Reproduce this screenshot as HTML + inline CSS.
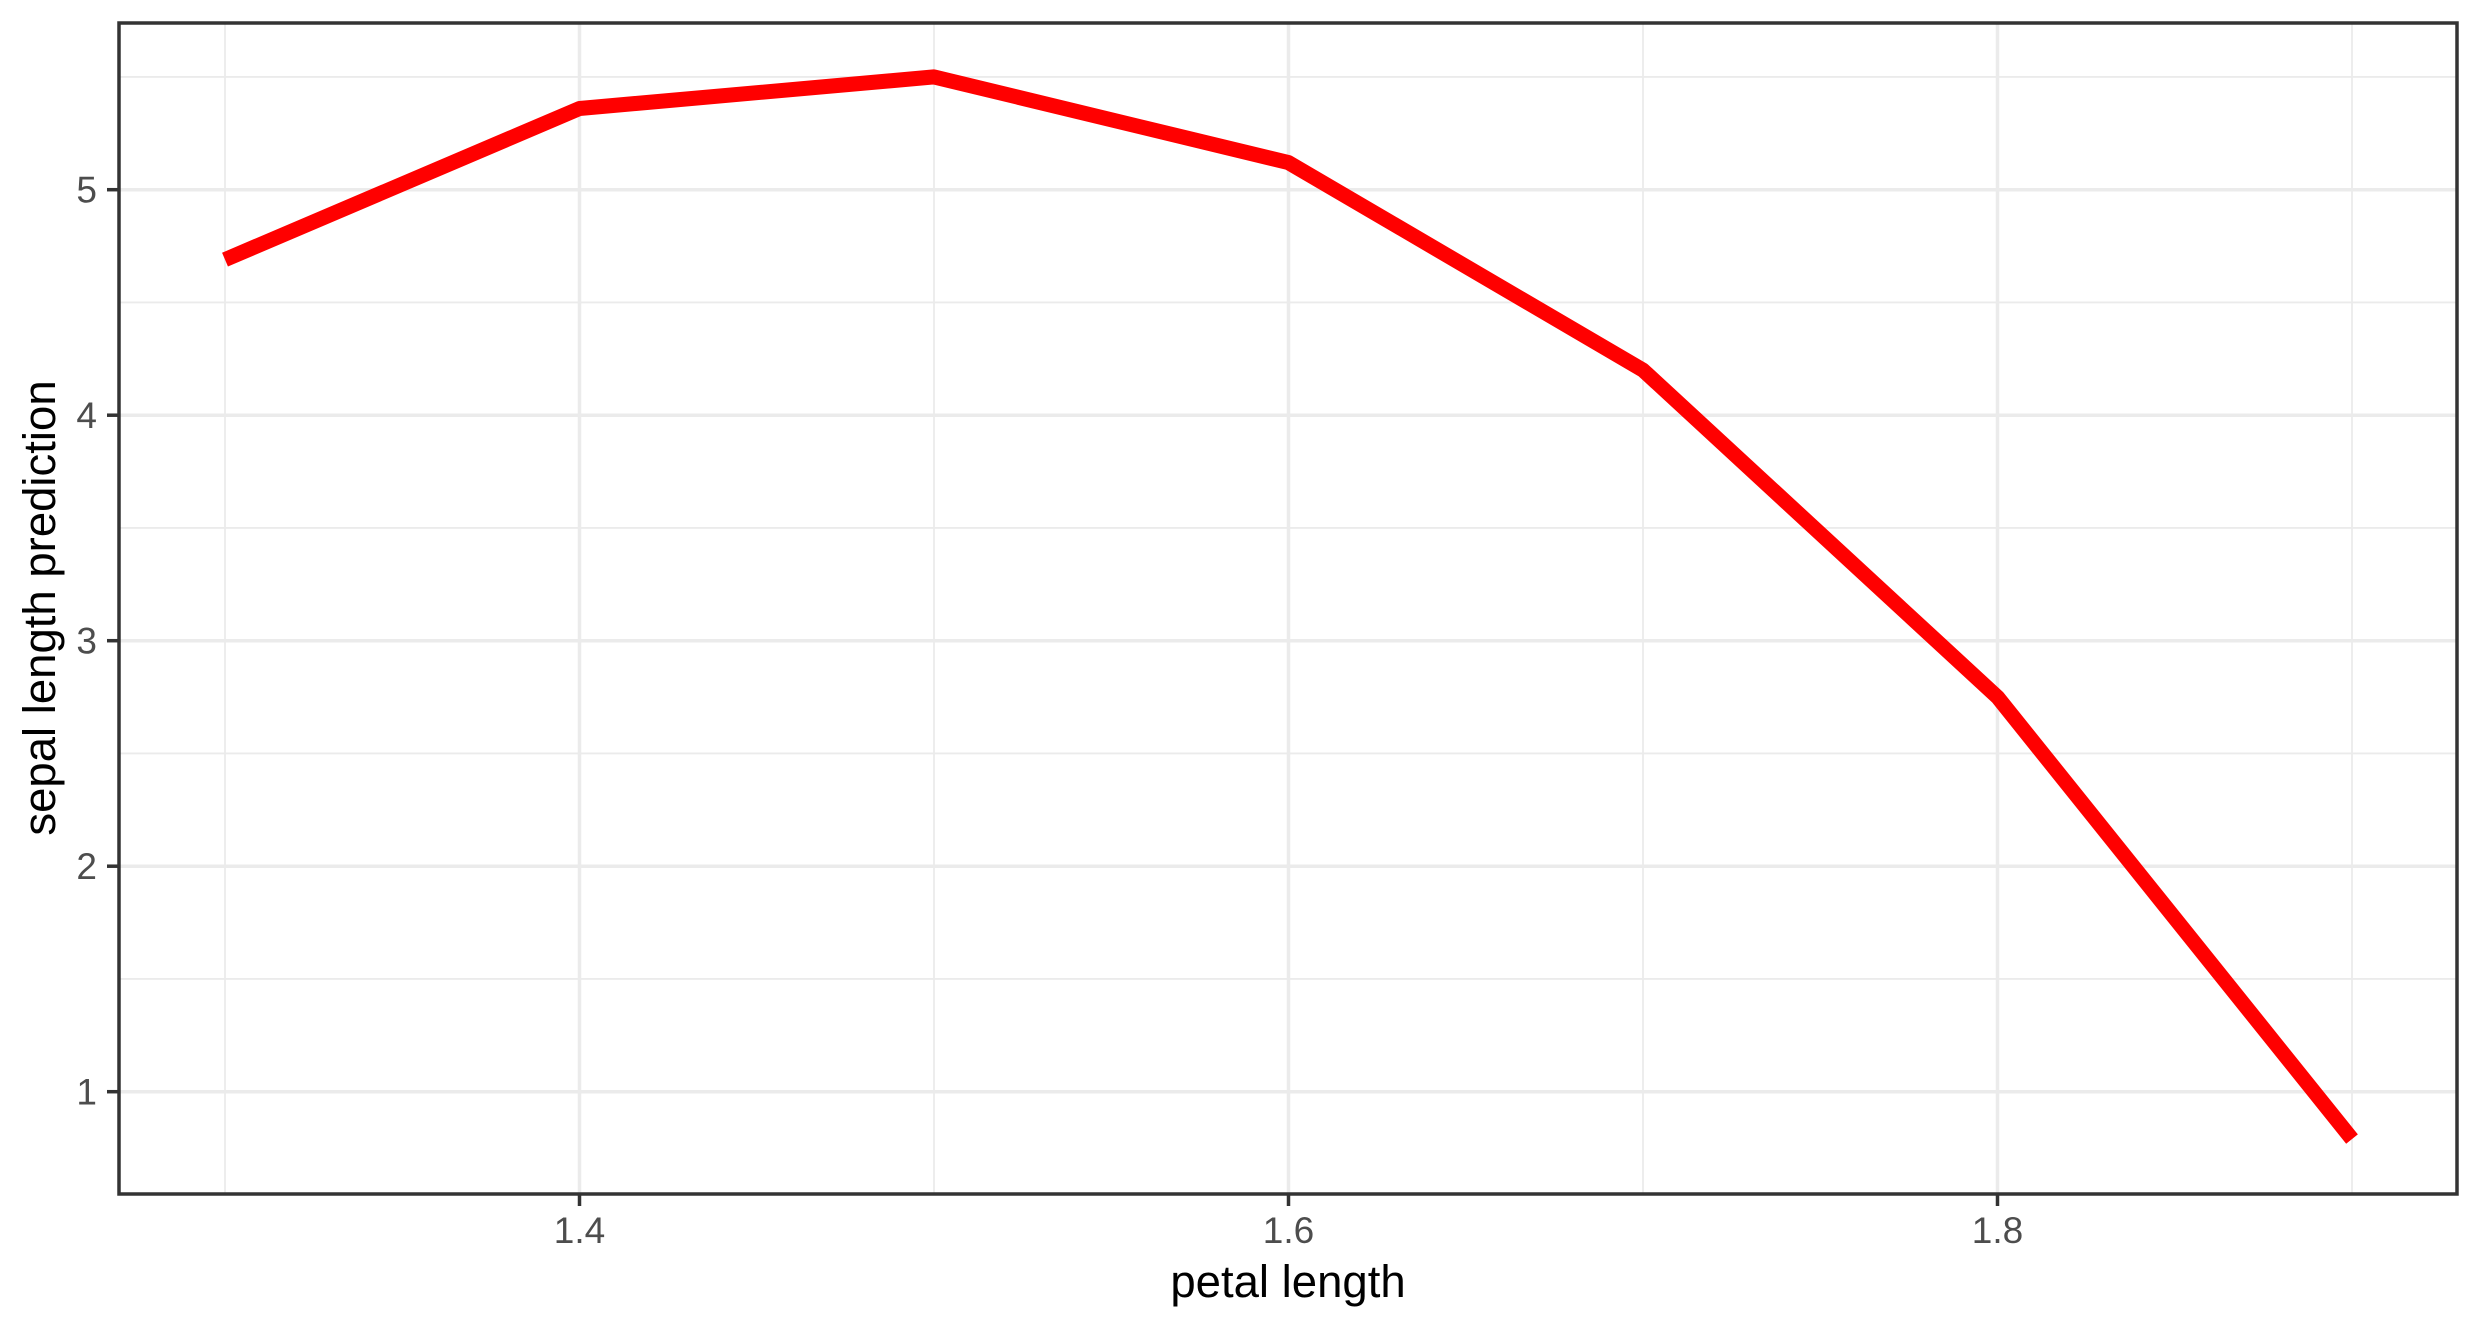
<!DOCTYPE html>
<html><head><meta charset="utf-8"><style>
html,body{margin:0;padding:0;background:#fff;}
svg{display:block;font-family:"Liberation Sans",Arial,sans-serif;}
</style></head><body>
<svg id="chart" width="2481" height="1328" viewBox="0 0 2481 1328" xmlns="http://www.w3.org/2000/svg">
<rect x="0" y="0" width="2481" height="1328" fill="#fff"/>
<g id="grid"></g>
<g id="series"></g>
<rect x="119" y="23" width="2338" height="1171" fill="none" stroke="#333" stroke-width="3.5"/>
<g id="axes"></g>
<text x="1288" y="1297" font-size="45.5" text-anchor="middle" fill="#000">petal length</text>
<text transform="translate(55,608) rotate(-90)" font-size="45.5" text-anchor="middle" fill="#000">sepal length prediction</text>
</svg>
<script>
const petalLength = [1.3, 1.4, 1.5, 1.6, 1.7, 1.8, 1.9];
const sepalPrediction = [4.69, 5.36, 5.50, 5.12, 4.20, 2.75, 0.79];
const xTicks = [1.4, 1.6, 1.8];
const xTickLabels = ["1.4", "1.6", "1.8"];
const yTicks = [1, 2, 3, 4, 5];
const yTickLabels = ["1", "2", "3", "4", "5"];
const xMinor = [1.3, 1.5, 1.7, 1.9];
const yMinor = [1.5, 2.5, 3.5, 4.5, 5.5];

const NS = "http://www.w3.org/2000/svg";
const L = 119, R = 2457, T = 23, B = 1194;
function xs(v){ return 225 + (v - 1.3) * 3545; }
function ys(v){ return 189.7 + (5 - v) * 225.5; }
function mk(tag, attrs, parent){
  const e = document.createElementNS(NS, tag);
  for (const k in attrs) e.setAttribute(k, attrs[k]);
  parent.appendChild(e);
  return e;
}
const grid = document.getElementById('grid');
const axes = document.getElementById('axes');
const series = document.getElementById('series');

xMinor.forEach(v => {
  const l = mk('line', {x1: xs(v), x2: xs(v), y1: T, y2: B, stroke: '#ebebeb', 'stroke-width': 1.8}, grid);
  
  
});
yMinor.forEach(v => {
  const l = mk('line', {x1: L, x2: R, y1: ys(v), y2: ys(v), stroke: '#ebebeb', 'stroke-width': 1.8}, grid);
  
  
});
xTicks.forEach((v, i) => {
  const g = mk('line', {x1: xs(v), x2: xs(v), y1: T, y2: B, stroke: '#ebebeb', 'stroke-width': 3.5}, grid);
  
  
  const t = mk('line', {x1: xs(v), x2: xs(v), y1: B, y2: B + 12, stroke: '#333', 'stroke-width': 3.5}, axes);
  
  
  const tx = mk('text', {x: xs(v), y: 1243, 'font-size': 37, 'text-anchor': 'middle', fill: '#4d4d4d'}, axes);
  tx.textContent = xTickLabels[i];
  
  
});
yTicks.forEach((v, i) => {
  const g = mk('line', {x1: L, x2: R, y1: ys(v), y2: ys(v), stroke: '#ebebeb', 'stroke-width': 3.5}, grid);
  
  
  const t = mk('line', {x1: L - 12, x2: L, y1: ys(v), y2: ys(v), stroke: '#333', 'stroke-width': 3.5}, axes);
  
  
  const tx = mk('text', {x: 97, y: ys(v) + 13, 'font-size': 37, 'text-anchor': 'end', fill: '#4d4d4d'}, axes);
  tx.textContent = yTickLabels[i];
  
  
});
const pts = petalLength.map((x, i) => xs(x).toFixed(1) + ',' + ys(sepalPrediction[i]).toFixed(1)).join(' ');
const pl = mk('polyline', {points: pts, fill: 'none', stroke: '#ff0000', 'stroke-width': 15, 'stroke-linejoin': 'round', 'stroke-linecap': 'butt'}, series);


</script>
</body></html>
